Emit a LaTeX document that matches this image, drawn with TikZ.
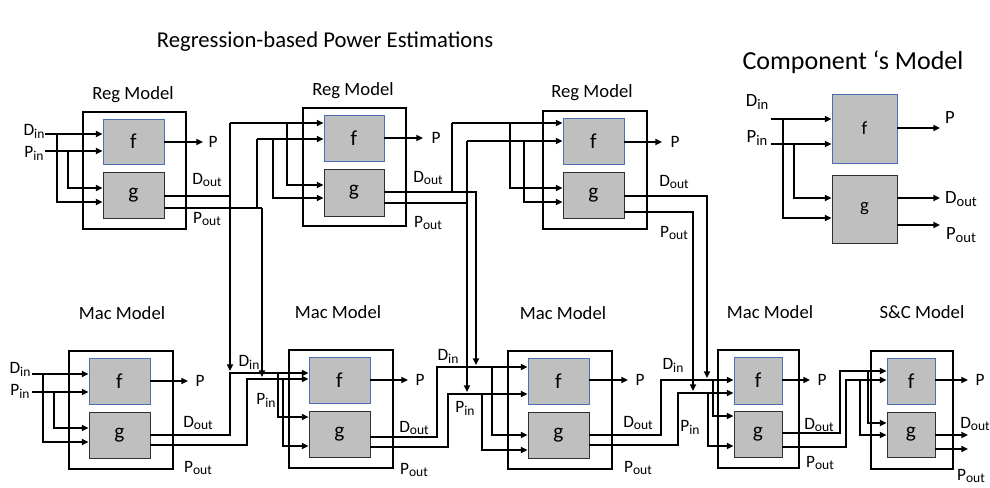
\documentclass[tikz,border=0pt]{standalone}
\usepackage{fontspec}
\setmainfont{Carlito}
\usetikzlibrary{arrows.meta,fit}
\definecolor{boxgray}{HTML}{BFBFBF}
\definecolor{fblue}{HTML}{4A6FB5}
\definecolor{gline}{HTML}{303030}
\newcommand{\xsub}[2]{#1\raisebox{-0.35ex}{\scalebox{0.78}{#2}}}
\newcommand{\fsz}[1]{\fontsize{#1}{#1}\selectfont}
\begin{document}
\begin{tikzpicture}[x=0.75pt,y=-0.75pt,
  outerbox/.style={draw, line width=2.2pt, inner sep=0pt},
  fbox/.style={draw=fblue, fill=boxgray, line width=0.7pt, inner sep=0pt},
  gbox/.style={draw=gline, fill=boxgray, line width=0.7pt, inner sep=0pt},
  fg/.style={inner sep=0pt, font=\fsz{16}},
  cfg/.style={inner sep=0pt, font=\fsz{14}},
  wire/.style={line width=1.5pt},
  arr/.style={wire, -{Triangle[length=5pt,width=4.5pt]}},
  lbl/.style={inner sep=0pt, font=\fsz{13}},
  clbl/.style={inner sep=0pt, font=\fsz{14}},
  mlbl/.style={inner sep=0pt, font=\fsz{14}},
  title/.style={inner sep=0pt, font=\fsz{17}},
  ctitle/.style={inner sep=0pt, font=\fsz{19.5}}]
\useasboundingbox (0,0) rectangle (990,487);

% titles
\node[title] (t1) at (325,42) {Regression-based Power Estimations};
\node[ctitle] (t2) at (853,62) {Component ‘s Model};

% ---------- boxes ----------
% Reg 1
\node[outerbox, fit={(83,112)(186,229)}] (r1o) {};
\node[fbox, fit={(103,119)(164,164)}] (r1f) {};
\node[gbox, fit={(103,172)(164,218)}] (r1g) {};
% Reg 2
\node[outerbox, fit={(303,108)(406,226)}] (r2o) {};
\node[fbox, fit={(324,115)(384,161)}] (r2f) {};
\node[gbox, fit={(324,169)(384,216)}] (r2g) {};
% Reg 3
\node[outerbox, fit={(543,111)(647,229)}] (r3o) {};
\node[fbox, fit={(563,118)(624,164)}] (r3f) {};
\node[gbox, fit={(563,172)(624,218)}] (r3g) {};
% Mac 1
\node[outerbox, fit={(69,351)(173,469)}] (m1o) {};
\node[fbox, fit={(89,358)(150,404)}] (m1f) {};
\node[gbox, fit={(89,412)(150,458)}] (m1g) {};
% Mac 2
\node[outerbox, fit={(289,350)(393,468)}] (m2o) {};
\node[fbox, fit={(309,357)(370,403)}] (m2f) {};
\node[gbox, fit={(309,411)(370,457)}] (m2g) {};
% Mac 3
\node[outerbox, fit={(508,351)(612,469)}] (m3o) {};
\node[fbox, fit={(528,358)(589,404)}] (m3f) {};
\node[gbox, fit={(528,412)(589,458)}] (m3g) {};
% Mac 4
\node[outerbox, fit={(718,350)(799,468)}] (m4o) {};
\node[fbox, fit={(734,357)(782,404)}] (m4f) {};
\node[gbox, fit={(734,411)(782,457)}] (m4g) {};
% S&C
\node[outerbox, fit={(871,351)(953,469)}] (sco) {};
\node[fbox, fit={(887,358)(935,404)}] (scf) {};
\node[gbox, fit={(887,412)(935,457)}] (scg) {};
% Component
\node[fbox, fit={(832,94)(897,163)}] (cf) {};
\node[gbox, fit={(832,175)(897,243)}] (cg) {};

% ---------- f / g letters ----------
\foreach \b in {r1,r2,r3,m1,m2,m3,m4,sc}{
  \node[fg] (\b fl) at (\b f.center) {f};
  \node[fg] (\b gl) at (\b g.center) {g};
}
\node[cfg] (cfl) at (cf.center) {f};
\node[cfg] (cgl) at (cg.center) {g};

% ---------- model titles ----------
\node[mlbl] (r1t) at (133,95) {Reg Model};
\node[mlbl] (r2t) at (353,91) {Reg Model};
\node[mlbl] (r3t) at (592,93) {Reg Model};
\node[mlbl] (m1t) at (122,313) {Mac Model};
\node[mlbl] (m2t) at (338,312) {Mac Model};
\node[mlbl] (m3t) at (563,313) {Mac Model};
\node[mlbl] (m4t) at (770,312) {Mac Model};
\node[mlbl] (sct) at (922,312) {S\&C Model};

% ---------- Reg 1 ----------
\node[lbl] (r1di) at (34,131) {\xsub{D}{in}};
\node[lbl] (r1pi) at (34,153) {\xsub{P}{in}};
\draw[arr] (45,134) -- (r1f.west |- 0,134);
\draw[arr] (45,151) -- (r1f.west |- 0,151);
\draw[arr] (57,134) |- (r1g.west |- 0,202);
\draw[arr] (68,151) |- (r1g.west |- 0,188);
\draw[arr] (r1f.east |- 0,142) -- (203,142);
\node[lbl] (r1P) at (213,142) {P};
\node[lbl] (r1do) at (207,180) {\xsub{D}{out}};
\node[lbl] (r1po) at (207,219) {\xsub{P}{out}};
\draw[wire] (r1g.east |- 0,196) -- (230,196);
\draw[wire] (r1g.east |- 0,208) -- (262,208);
\draw[arr] (230,123) -- (230,371);
\draw[arr] (262,208) -- (262,377);
\draw[wire] (257,139) -- (257,208);
\draw[arr] (230,123) -- (r2f.west |- 0,123);
\draw[arr] (257,139) -- (r2f.west |- 0,139);

% ---------- Reg 2 ----------
\draw[arr] (287,123) |- (r2g.west |- 0,185);
\draw[arr] (273,139) |- (r2g.west |- 0,198);
\draw[arr] (r2f.east |- 0,138) -- (423,138);
\node[lbl] (r2P) at (436,138) {P};
\node[lbl] (r2do) at (428,178) {\xsub{D}{out}};
\node[lbl] (r2po) at (428,223) {\xsub{P}{out}};
\draw[arr] (r2g.east |- 0,192) -| (476,365);
\draw[wire] (452,123) -- (452,192);
\draw[wire] (r2g.east |- 0,203) -- (467,203);
\draw[arr] (467,141) -- (467,392);
\draw[arr] (452,123) -- (r3f.west |- 0,123);
\draw[arr] (467,141) -- (r3f.west |- 0,141);

% ---------- Reg 3 ----------
\draw[arr] (510,123) |- (r3g.west |- 0,188);
\draw[arr] (524,141) |- (r3g.west |- 0,202);
\draw[arr] (r3f.east |- 0,142) -- (662,142);
\node[lbl] (r3P) at (675,142) {P};
\node[lbl] (r3do) at (674,182) {\xsub{D}{out}};
\node[lbl] (r3po) at (674,233) {\xsub{P}{out}};
\draw[arr] (r3g.east |- 0,196) -| (707,378);
\draw[arr] (r3g.east |- 0,212) -| (693,391);

% ---------- Mac 1 ----------
\node[lbl] (m1di) at (20,369) {\xsub{D}{in}};
\node[lbl] (m1pi) at (20,391) {\xsub{P}{in}};
\draw[arr] (32,374) -- (m1f.west |- 0,374);
\draw[arr] (32,392) -- (m1f.west |- 0,392);
\draw[arr] (43,374) |- (m1g.west |- 0,442);
\draw[arr] (54,392) |- (m1g.west |- 0,428);
\draw[arr] (m1f.east |- 0,381) -- (188,381);
\node[lbl] (m1P) at (200,381) {P};
\node[lbl] (m1do) at (198,423) {\xsub{D}{out}};
\node[lbl] (m1po) at (198,468) {\xsub{P}{out}};
\draw[arr] (m1g.east |- 0,435) -| (230,373) -- (m2f.west |- 0,373);
\draw[arr] (m1g.east |- 0,445) -| (247,379) -- (m2f.west |- 0,379);

% ---------- Mac 2 ----------
\node[lbl] (m2di) at (249,362) {\xsub{D}{in}};
\node[lbl] (m2pi) at (266,400) {\xsub{P}{in}};
\draw[arr] (278,373) |- (m2g.west |- 0,417);
\draw[arr] (283,379) |- (m2g.west |- 0,446);
\draw[arr] (m2f.east |- 0,380) -- (408,380);
\node[lbl] (m2P) at (420,380) {P};
\node[lbl] (m2do) at (414,428) {\xsub{D}{out}};
\node[lbl] (m2po) at (414,470) {\xsub{P}{out}};
\draw[arr] (m2g.east |- 0,437) -| (437,367) -- (m3f.west |- 0,367);
\draw[arr] (m2g.east |- 0,447) -| (448,394) -- (m3f.west |- 0,394);

% ---------- Mac 3 ----------
\node[lbl] (m3di) at (448,356) {\xsub{D}{in}};
\node[lbl] (m3pi) at (465,408) {\xsub{P}{in}};
\draw[arr] (492,367) |- (m3g.west |- 0,435);
\draw[arr] (482,394) |- (m3g.west |- 0,450);
\draw[arr] (m3f.east |- 0,380) -- (628,380);
\node[lbl] (m3P) at (640,380) {P};
\node[lbl] (m3do) at (638,423) {\xsub{D}{out}};
\node[lbl] (m3po) at (638,468) {\xsub{P}{out}};
\draw[arr] (m3g.east |- 0,435) -| (661,380) -- (m4f.west |- 0,380);
\draw[arr] (m3g.east |- 0,445) -| (678,393) -- (m4f.west |- 0,393);

% ---------- Mac 4 ----------
\node[lbl] (m4di) at (673,365) {\xsub{D}{in}};
\node[lbl] (m4pi) at (690,427) {\xsub{P}{in}};
\draw[arr] (713,380) |- (m4g.west |- 0,416);
\draw[arr] (708,393) |- (m4g.west |- 0,446);
\draw[arr] (m4f.east |- 0,380) -- (810,380);
\node[lbl] (m4P) at (822,380) {P};
\node[lbl] (m4do) at (819,425) {\xsub{D}{out}};
\node[lbl] (m4po) at (820,463) {\xsub{P}{out}};
\draw[arr] (m4g.east |- 0,433) -| (840,371) -- (scf.west |- 0,371);
\draw[arr] (m4g.east |- 0,447) -| (846,380) -- (scf.west |- 0,380);

% ---------- S&C ----------
\draw[arr] (868,371) |- (scg.west |- 0,423);
\draw[arr] (860,380) |- (scg.west |- 0,435);
\draw[arr] (scf.east |- 0,380) -- (968,380);
\node[lbl] (scP) at (980,380) {P};
\draw[arr] (scg.east |- 0,435) -- (968,435);
\draw[arr] (scg.east |- 0,449) -- (968,449);
\node[lbl] (scdo) at (975,424) {\xsub{D}{out}};
\node[lbl] (scpo) at (971,476) {\xsub{P}{out}};

% ---------- Component ----------
\node[clbl] (cdi) at (757,102) {\xsub{D}{in}};
\node[clbl] (cpi) at (757,138) {\xsub{P}{in}};
\draw[arr] (771,119) -- (cf.west |- 0,119);
\draw[arr] (771,144) -- (cf.west |- 0,144);
\draw[arr] (783,119) |- (cg.west |- 0,218);
\draw[arr] (794,144) |- (cg.west |- 0,198);
\draw[arr] (cf.east |- 0,128) -- (940,128);
\node[clbl] (cP) at (950,118) {P};
\draw[arr] (cg.east |- 0,198) -- (940,198);
\draw[arr] (cg.east |- 0,225) -- (940,225);
\node[clbl] (cdo) at (961,199) {\xsub{D}{out}};
\node[clbl] (cpo) at (961,235) {\xsub{P}{out}};
\end{tikzpicture}
\end{document}
